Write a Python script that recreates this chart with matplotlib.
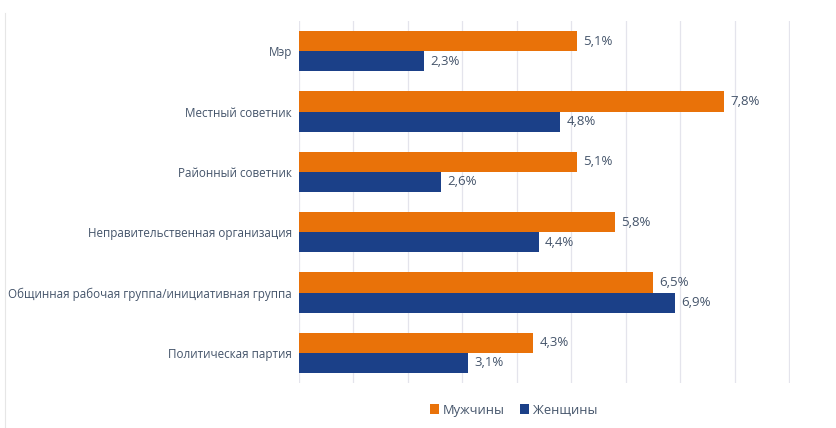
import matplotlib.pyplot as plt
import numpy as np
from matplotlib.lines import Line2D

plt.rcParams['font.family'] = ['Open Sans', 'DejaVu Sans']

# данные
categories = ['Мэр', 'Местный советник', 'Районный советник',
              'Неправительственная организация',
              'Общинная рабочая группа/инициативная группа',
              'Политическая партия']
men = [5.1, 7.8, 5.1, 5.8, 6.5, 4.3]
women = [2.3, 4.8, 2.6, 4.4, 6.9, 3.1]
series_names = ['Мужчины', 'Женщины']

c_men = '#E97209'
c_women = '#1B4088'
txt = '#44546A'

fig = plt.figure(figsize=(8.37, 4.28), dpi=100)
ax = fig.add_axes([0.3572, 0.1051, 0.5867, 0.8458])

y = np.arange(len(categories))
h = 0.333
ax.barh(y - h/2, men, height=h, color=c_men, label=series_names[0], zorder=3)
ax.barh(y + h/2, women, height=h, color=c_women, label=series_names[1], zorder=3)

for i in range(len(categories)):
    ax.text(men[i] + 0.12, y[i] - h/2, ('%.1f%%' % men[i]).replace('.', ','),
            va='center', ha='left', fontsize=9.5, color=txt)
    ax.text(women[i] + 0.12, y[i] + h/2, ('%.1f%%' % women[i]).replace('.', ','),
            va='center', ha='left', fontsize=9.5, color=txt)

ax.set_xlim(0, 9.02)
ax.set_ylim(len(categories) - 0.5, -0.5)
ax.set_xticks(np.arange(0, 10, 1))
ax.set_xticklabels([])
ax.set_yticks(y)
ax.set_yticklabels(categories, fontsize=8.35, color=txt)
ax.tick_params(axis='both', length=0, pad=5)
ax.grid(axis='x', color='#E4E4EC', linewidth=0.9, zorder=0)
for s in ax.spines.values():
    s.set_visible(False)

ax.legend(loc='center', bbox_to_anchor=(0.614, 0.042), bbox_transform=fig.transFigure,
          ncol=2, frameon=False, fontsize=9.3, handlelength=0.7, handleheight=0.7,
          handletextpad=0.3, columnspacing=1.2, labelcolor=txt)

# тонкая рамка слева
fig.add_artist(Line2D([0.006, 0.006], [0.0, 0.97], transform=fig.transFigure,
                      color='#E6E6E6', linewidth=0.8))

fig.savefig('out.png', dpi=100)
